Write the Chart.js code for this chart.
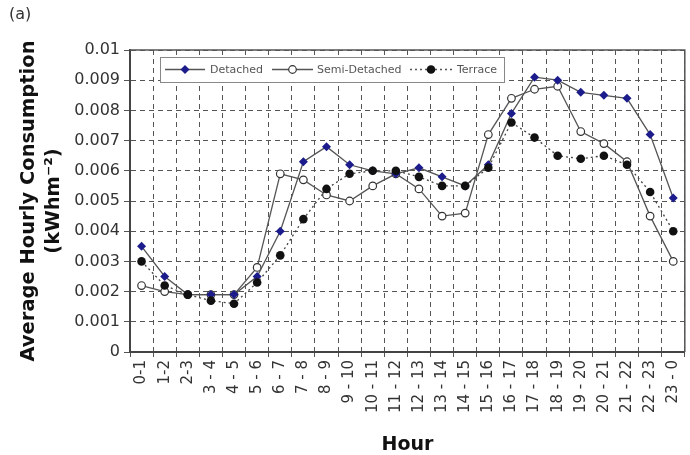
<!DOCTYPE html>
<html>
<head>
<meta charset="utf-8">
<script src="https://cdn.jsdelivr.net/npm/chart.js@4/dist/chart.umd.min.js"></script>
<style>
  html, body { margin: 0; padding: 0; background: #fff; }
  #wrap { position: relative; width: 690px; height: 455px; }
</style>
</head>
<body>
<div id="wrap"><canvas id="c" width="690" height="455"></canvas></div>
<script>
// Hour bands on the x axis
var hours = ['0-1', '1-2', '2-3', '3 - 4', '4 - 5', '5 - 6', '6 - 7', '7 - 8', '8 - 9', '9 - 10',
  '10 - 11', '11 - 12', '12 - 13', '13 - 14', '14 - 15', '15 - 16', '16 - 17', '17 - 18',
  '18 - 19', '19 - 20', '20 - 21', '21 - 22', '22 - 23', '23 - 0'];

// Average hourly consumption, kWh per m2
var detached = [0.0035, 0.0025, 0.0019, 0.0019, 0.0019, 0.0025, 0.0040, 0.0063, 0.0068, 0.0062,
  0.0060, 0.0059, 0.0061, 0.0058, 0.0055, 0.0062, 0.0079, 0.0091, 0.0090, 0.0086,
  0.0085, 0.0084, 0.0072, 0.0051];
var semiDetached = [0.0022, 0.0020, 0.0019, 0.0019, 0.0019, 0.0028, 0.0059, 0.0057, 0.0052, 0.0050,
  0.0055, 0.0059, 0.0054, 0.0045, 0.0046, 0.0072, 0.0084, 0.0087, 0.0088, 0.0073,
  0.0069, 0.0063, 0.0045, 0.0030];
var terrace = [0.0030, 0.0022, 0.0019, 0.0017, 0.0016, 0.0023, 0.0032, 0.0044, 0.0054, 0.0059,
  0.0060, 0.0060, 0.0058, 0.0055, 0.0055, 0.0061, 0.0076, 0.0071, 0.0065, 0.0064,
  0.0065, 0.0062, 0.0053, 0.0040];

var yMin = 0, yMax = 0.01, yStep = 0.001;

var navy = '#1c1c8c', lineGrey = '#555', gridGrey = '#555';
var font = 'DejaVu Sans, Verdana, sans-serif';

// Boxed legend inside the plot, drawn with line + marker samples like the original
var boxLegend = {
  id: 'boxLegend',
  afterDraw: function (chart) {
    var ctx = chart.ctx, cy = 69.5;
    var items = [
      { x1: 165, x2: 205, tx: 210, text: 'Detached', dash: [], mark: 'diamond' },
      { x1: 272, x2: 313, tx: 317, text: 'Semi-Detached', dash: [], mark: 'open' },
      { x1: 410, x2: 452, tx: 457, text: 'Terrace', dash: [2, 3], mark: 'dot' }
    ];
    ctx.save();
    ctx.fillStyle = '#fff';
    ctx.fillRect(160, 57, 345, 25);
    ctx.strokeStyle = '#888'; ctx.lineWidth = 1;
    ctx.strokeRect(160.5, 57.5, 344, 25);
    ctx.font = '11px ' + font;
    ctx.textBaseline = 'middle';
    items.forEach(function (it) {
      var mx = (it.x1 + it.x2) / 2;
      ctx.setLineDash(it.dash);
      ctx.strokeStyle = lineGrey; ctx.lineWidth = 1.3;
      ctx.beginPath(); ctx.moveTo(it.x1, cy); ctx.lineTo(it.x2, cy); ctx.stroke();
      ctx.setLineDash([]);
      ctx.beginPath();
      if (it.mark === 'diamond') {
        ctx.moveTo(mx, cy - 4.5); ctx.lineTo(mx + 4.5, cy); ctx.lineTo(mx, cy + 4.5); ctx.lineTo(mx - 4.5, cy); ctx.closePath();
        ctx.fillStyle = navy; ctx.fill();
      } else if (it.mark === 'open') {
        ctx.arc(mx, cy, 3.8, 0, Math.PI * 2);
        ctx.fillStyle = '#fff'; ctx.fill(); ctx.strokeStyle = '#333'; ctx.lineWidth = 1.2; ctx.stroke();
      } else {
        ctx.arc(mx, cy, 4.3, 0, Math.PI * 2);
        ctx.fillStyle = '#111'; ctx.fill();
      }
      ctx.fillStyle = '#555';
      ctx.fillText(it.text, it.tx, cy + 0.5);
    });
    ctx.fillStyle = '#333';
    ctx.font = '16px ' + font;
    ctx.textBaseline = 'top';
    ctx.fillText('(a)', 9, 7);
    ctx.restore();
  }
};

// Solid frame on top and right of the plot area
var frame = {
  id: 'frame',
  beforeDatasetsDraw: function (chart) {
    var a = chart.chartArea, ctx = chart.ctx;
    ctx.save();
    ctx.strokeStyle = '#555'; ctx.lineWidth = 1.5;
    ctx.beginPath();
    ctx.moveTo(a.left, a.top); ctx.lineTo(a.right, a.top); ctx.lineTo(a.right, a.bottom);
    ctx.stroke();
    ctx.restore();
  }
};

new Chart(document.getElementById('c'), {
  type: 'line',
  data: {
    labels: hours,
    datasets: [
      {
        label: 'Detached', data: detached, order: 1,
        borderColor: lineGrey, borderWidth: 1.3,
        pointStyle: 'rectRot', pointRadius: 4.5, pointBackgroundColor: navy, pointBorderColor: navy, pointBorderWidth: 0
      },
      {
        label: 'Semi-Detached', data: semiDetached, order: 2,
        borderColor: lineGrey, borderWidth: 1.3,
        pointStyle: 'circle', pointRadius: 3.8, pointBackgroundColor: '#fff', pointBorderColor: '#333', pointBorderWidth: 1.2
      },
      {
        label: 'Terrace', data: terrace, order: 0,
        borderColor: '#444', borderWidth: 1.3, borderDash: [2, 3],
        pointStyle: 'circle', pointRadius: 4.3, pointBackgroundColor: '#111', pointBorderColor: '#111', pointBorderWidth: 0
      }
    ]
  },
  options: {
    responsive: false, animation: false,
    layout: { padding: { left: 0, right: 3, top: 50, bottom: 0 } },
    plugins: { legend: { display: false }, tooltip: { enabled: false } },
    scales: {
      x: {
        offset: true,
        grid: { offset: true, color: gridGrey, lineWidth: 1, tickLength: 5 },
        border: { color: '#444', width: 2, dash: [5, 4] },
        ticks: { autoSkip: false, maxRotation: 90, minRotation: 90, padding: 3, color: '#333', font: { family: font, size: 15 } },
        title: { display: true, text: 'Hour', color: '#111', padding: { top: 0, bottom: 0 }, font: { family: font, size: 19, weight: 'bold', lineHeight: 1 } },
        afterFit: function (s) { s.height = 103; s.paddingLeft = 0; s.paddingRight = 0; }
      },
      y: {
        min: yMin, max: yMax,
        grid: { color: gridGrey, lineWidth: 1, tickLength: 6 },
        border: { color: '#444', width: 2, dash: [5, 4] },
        ticks: {
          stepSize: yStep, padding: 4, color: '#333', font: { family: font, size: 16 },
          callback: function (v) { return v === 0 ? '0' : String(Number(v.toFixed(3))); }
        },
        title: {
          display: true, text: ['Average Hourly Consumption', '(kWhm\u207B\u00B2)'], color: '#111',
          padding: { top: 16, bottom: 0 }, font: { family: font, size: 19.5, weight: 'bold', lineHeight: 1.3 }
        },
        afterFit: function (s) { s.width = 130; s.paddingTop = 0; s.paddingBottom = 0; }
      }
    }
  },
  plugins: [frame, boxLegend]
});
</script>
</body>
</html>
